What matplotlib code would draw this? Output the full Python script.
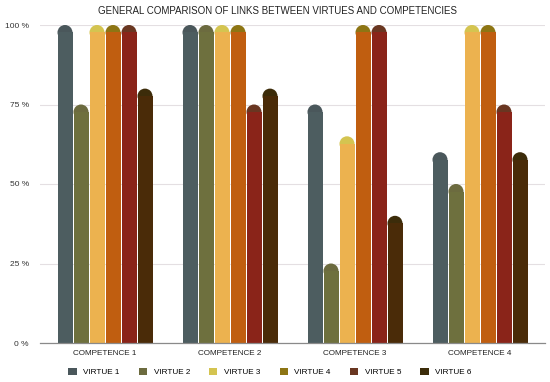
import matplotlib
matplotlib.use("Agg")
import matplotlib.pyplot as plt
from matplotlib.patches import Ellipse, Patch
import numpy as np

plt.rcParams['font.family'] = ['Liberation Sans', 'DejaVu Sans']

title = "GENERAL COMPARISON OF LINKS BETWEEN VIRTUES AND COMPETENCIES"
competences = ["COMPETENCE 1", "COMPETENCE 2", "COMPETENCE 3", "COMPETENCE 4"]
virtues = ["VIRTUE 1", "VIRTUE 2", "VIRTUE 3", "VIRTUE 4", "VIRTUE 5", "VIRTUE 6"]
virtue1 = [100, 100, 75, 60]
virtue2 = [75, 100, 25, 50]
virtue3 = [100, 100, 65, 100]
virtue4 = [100, 100, 100, 100]
virtue5 = [100, 75, 100, 75]
virtue6 = [80, 80, 40, 60]
yticks = [0, 25, 50, 75, 100]
ytick_labels = ["0 %", "25 %", "50 %", "75 %", "100 %"]

series = [virtue1, virtue2, virtue3, virtue4, virtue5, virtue6]
body_colors = ["#4d5d60", "#6e703e", "#ecb24f", "#c05e10", "#8a2419", "#4a2b08"]
cap_colors = ["#4a575b", "#6c6b3f", "#d4c450", "#8d7514", "#693621", "#3c2c0a"]

fig = plt.figure(figsize=(5.5, 3.82), dpi=100)
ax = fig.add_axes([40/550, 39/382, 505/550, 318/382])
ax.set_xlim(-0.52, 3.52)
ax.set_ylim(0, 100)

x = np.arange(len(competences))
step = 0.128
bw = 0.12
px_y = 100 / 318.0
cap_h = (bw * 125 / 2) * px_y  # radius in y data units

for i, (vals, bc, cc) in enumerate(zip(series, body_colors, cap_colors)):
    offs = (i - 2.5) * step
    for xi, v in zip(x, vals):
        xc = xi + offs
        ax.bar(xc, v - cap_h, width=bw, color=bc, zorder=3, linewidth=0)
        e = Ellipse((xc, v - cap_h), width=bw, height=2 * cap_h, facecolor=cc,
                    edgecolor='none', zorder=2, clip_on=False)
        ax.add_patch(e)

ax.set_yticks(yticks)
ax.set_yticklabels(ytick_labels, fontsize=6, color="#333333")
ax.set_xticks(x)
ax.set_xticklabels(competences, fontsize=5.9, color="#222222")
ax.tick_params(axis='both', length=0)
ax.tick_params(axis='y', pad=8)
ax.tick_params(axis='x', pad=5)
ax.grid(axis='y', color="#e4dfe2", linewidth=0.8, zorder=0)
ax.set_axisbelow(True)
for s in ['top', 'right', 'left']:
    ax.spines[s].set_visible(False)
ax.spines['bottom'].set_color("#8a8a8a")
ax.spines['bottom'].set_linewidth(0.9)
ax.spines['bottom'].set_zorder(4)

fig.text(277/550, 1 - 11/382, title, ha='center', va='center', fontsize=7.0, color="#222222")

handles = [Patch(facecolor=c, edgecolor='none') for c in cap_colors]
fig.legend(handles, virtues, loc='center', bbox_to_anchor=(270/550, 1 - 372/382), ncol=6,
           frameon=False, fontsize=5.9, handlelength=1.0, handleheight=1.0,
           handletextpad=0.8, columnspacing=2.35, borderaxespad=0)

fig.savefig("out.png", dpi=100)
